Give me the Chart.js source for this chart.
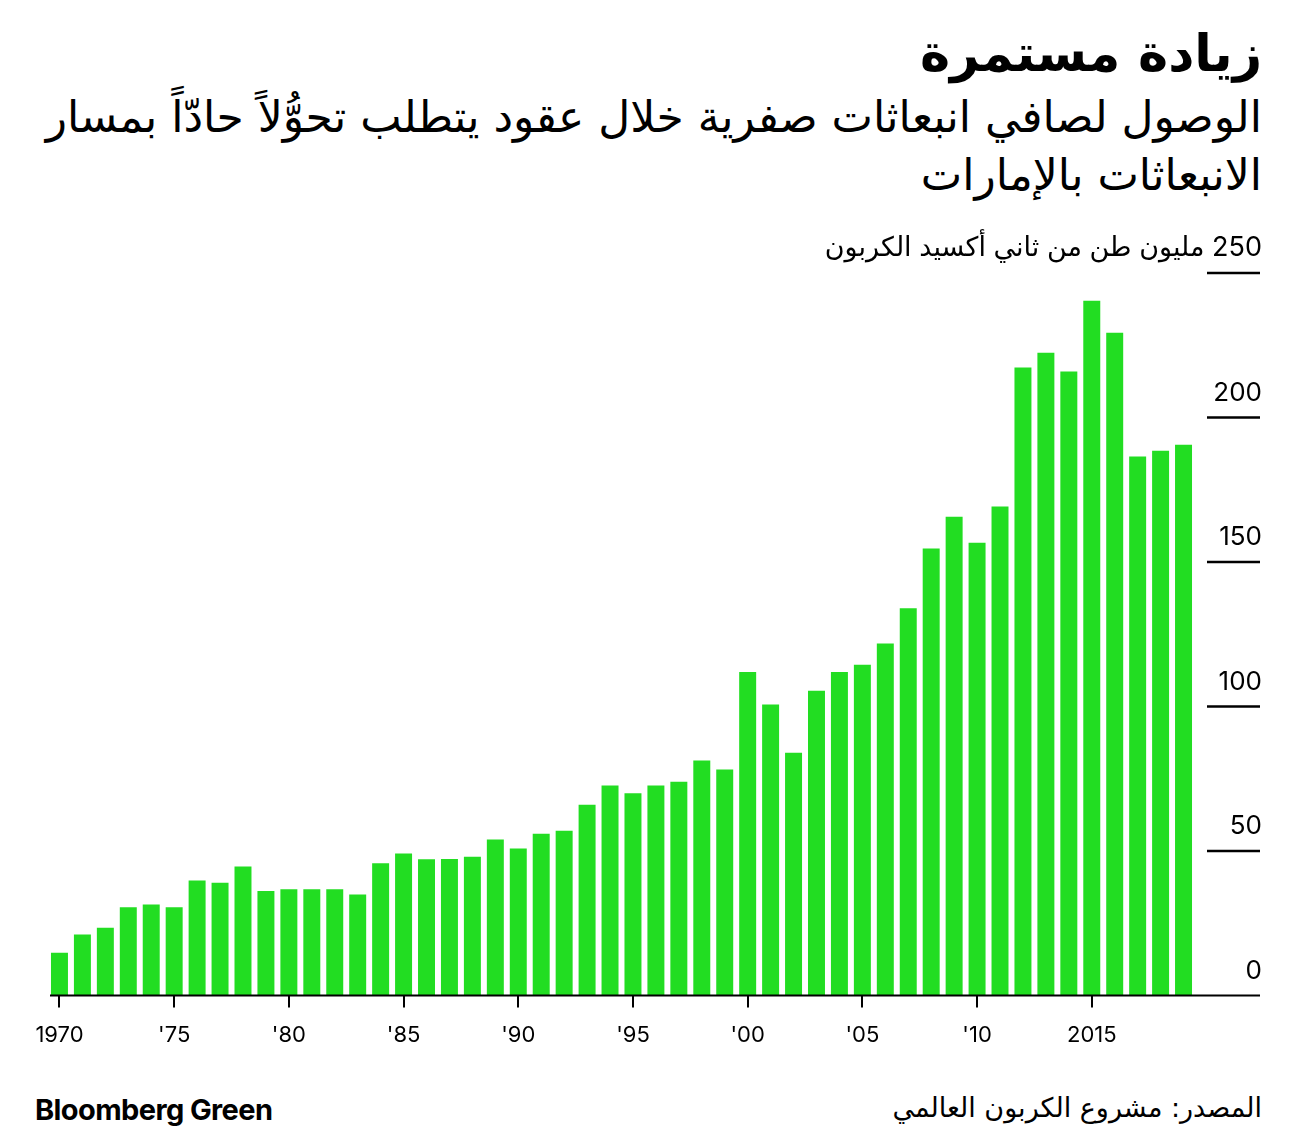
<!DOCTYPE html>
<html lang="ar">
<head>
<meta charset="utf-8">
<script src="https://cdn.jsdelivr.net/npm/chart.js@4.4.1/dist/chart.umd.min.js"></script>
<style>
  body { margin: 0; background: #fff; width: 1296px; height: 1138px; position: relative; overflow: hidden; font-family: Inter, 'DejaVu Sans', sans-serif; }
  .title { position: absolute; right: 34px; top: 24px; direction: rtl; font: bold 51px 'DejaVu Sans', sans-serif; color: #000; white-space: nowrap; }
  .subtitle { position: absolute; right: 34px; top: 88px; direction: rtl; font: 44px/58px 'DejaVu Sans', sans-serif; color: #000; white-space: nowrap; }
  .brand { position: absolute; left: 35px; top: 1092px; font: bold 29px Inter, sans-serif; letter-spacing: -0.6px; color: #000; }
  .source { position: absolute; right: 34px; top: 1092px; direction: rtl; font: 27px 'DejaVu Sans', sans-serif; color: #000; }
  #wrap { position: absolute; left: 0; top: 220px; width: 1296px; height: 844px; }
</style>
</head>
<body>
<div class="title">زيادة مستمرة</div>
<div class="subtitle">الوصول لصافي انبعاثات صفرية خلال عقود يتطلب تحوُّلاً حادّاً بمسار<br>الانبعاثات بالإمارات</div>
<div id="wrap"><canvas id="emissionsChart"></canvas></div>
<div class="brand">Bloomberg Green</div>
<div class="source">المصدر: مشروع الكربون العالمي</div>

<script>
// Annual CO2 emissions, UAE (million tonnes)
const years = []
for (let y = 1970; y <= 2019; y++) years.push(String(y))

const emissions = [
  14.8, 21.1, 23.5, 30.6, 31.5, 30.6, 39.8, 39, 44.7, 36.2,
  36.8, 36.8, 36.8, 35, 45.8, 49.2, 47.2, 47.3, 48, 54,
  50.9, 56, 57, 66, 72.7, 70, 72.7, 74, 81.3, 78.2,
  112, 100.7, 84, 105.5, 112, 114.5, 121.8, 134, 154.7, 165.7,
  156.7, 169.2, 217.3, 222.4, 215.9, 240.4, 229.3, 186.5, 188.5, 190.6
]

// labels shown under every fifth bar
const xTickLabels = ['1970', "'75", "'80", "'85", "'90", "'95", "'00", "'05", "'10", '2015']
const yTickValues = [0, 50, 100, 150, 200, 250]
const unitLabel = 'مليون طن من ثاني أكسيد الكربون'

// draws the right-hand value ticks and the baseline
const rightAxis = {
  id: 'rightAxis',
  afterDraw(chart) {
    const ctx = chart.ctx
    const y = chart.scales.y
    const area = chart.chartArea
    ctx.save()
    ctx.strokeStyle = '#000'
    ctx.fillStyle = '#000'
    ctx.textBaseline = 'alphabetic'
    ctx.direction = 'rtl'
    ctx.textAlign = 'right'

    const base = y.getPixelForValue(0)
    ctx.lineWidth = 2
    ctx.beginPath()
    ctx.moveTo(area.left + 2, base)
    ctx.lineTo(1260, base)
    ctx.stroke()

    yTickValues.forEach(v => {
      const py = y.getPixelForValue(v)
      if (v !== 0) {
        ctx.lineWidth = 2.5
        ctx.beginPath()
        ctx.moveTo(1207, py)
        ctx.lineTo(1260, py)
        ctx.stroke()
      }
      if (v === 250) {
        ctx.font = '27px Inter, "DejaVu Sans", sans-serif'
        ctx.fillText(v + ' ' + unitLabel, 1262, py - 17)
      } else {
        ctx.font = '26px Inter, sans-serif'
        ctx.fillText(String(v), 1262, py - 17)
      }
    })
    ctx.restore()
  }
}

const ctx = document.getElementById('emissionsChart').getContext('2d')
const emissionsChart = new Chart(ctx, {
  type: 'bar',
  data: {
    labels: years,
    datasets: [{
      data: emissions,
      backgroundColor: '#22dd22',
      barPercentage: 0.74,
      categoryPercentage: 1
    }]
  },
  options: {
    responsive: true,
    maintainAspectRatio: false,
    animation: false,
    layout: {
      padding: { left: 48, right: 101, top: 53, bottom: 0 }
    },
    plugins: {
      legend: { display: false },
      tooltip: { enabled: false }
    },
    scales: {
      x: {
        border: { display: false },
        grid: {
          offset: false,
          drawOnChartArea: false,
          tickLength: 12,
          lineWidth: 2,
          color: c => (c.index % 5 === 0 ? '#000' : 'rgba(0,0,0,0)')
        },
        ticks: {
          autoSkip: false,
          maxRotation: 0,
          padding: 15,
          color: '#000',
          font: { family: 'Inter, sans-serif', size: 22 },
          callback: (val, i) => (i % 5 === 0 ? xTickLabels[i / 5] : '')
        }
      },
      y: {
        display: false,
        min: 0,
        max: 250
      }
    }
  },
  plugins: [rightAxis]
})
</script>
</body>
</html>
